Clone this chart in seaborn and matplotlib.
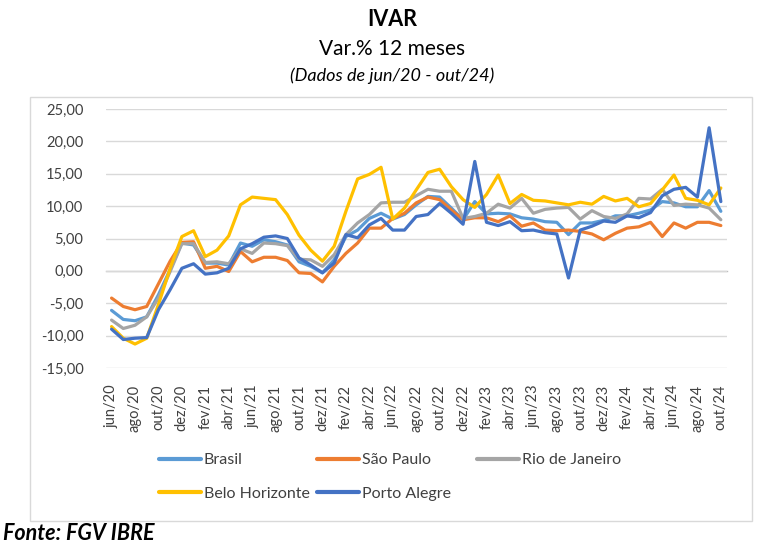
import numpy as np
import pandas as pd
import matplotlib
matplotlib.use("Agg")
import matplotlib.pyplot as plt
from matplotlib.patches import Rectangle
from matplotlib.lines import Line2D
import seaborn as sns

months = ["jun/20", "jul/20", "ago/20", "set/20", "out/20", "nov/20", "dez/20",
          "jan/21", "fev/21", "mar/21", "abr/21", "mai/21", "jun/21", "jul/21",
          "ago/21", "set/21", "out/21", "nov/21", "dez/21",
          "jan/22", "fev/22", "mar/22", "abr/22", "mai/22", "jun/22", "jul/22",
          "ago/22", "set/22", "out/22", "nov/22", "dez/22",
          "jan/23", "fev/23", "mar/23", "abr/23", "mai/23", "jun/23", "jul/23",
          "ago/23", "set/23", "out/23", "nov/23", "dez/23",
          "jan/24", "fev/24", "mar/24", "abr/24", "mai/24", "jun/24", "jul/24",
          "ago/24", "set/24", "out/24"]

brasil = [-6.1, -7.5, -7.7, -7.1, -3.7, 0.2, 4.3, 4.0, 1.2, 1.2, 0.9, 4.3, 3.8, 4.8,
          4.5, 4.0, 1.4, 0.7, -0.3, 1.7, 5.3, 6.3, 8.1, 8.9, 8.0, 8.7, 10.2, 11.5,
          11.4, 9.7, 7.9, 10.7, 8.8, 8.9, 8.8, 8.2, 8.0, 7.6, 7.5, 5.6, 7.4, 7.4,
          7.8, 8.5, 8.5, 8.9, 9.4, 10.7, 10.5, 9.9, 9.9, 12.4, 9.2]
sao_paulo = [-4.2, -5.5, -6.0, -5.5, -2.0, 1.5, 4.4, 4.5, 0.4, 0.7, -0.1, 3.0, 1.4, 2.1,
             2.1, 1.6, -0.3, -0.4, -1.7, 0.7, 2.7, 4.3, 6.6, 6.6, 8.1, 8.9, 10.5, 11.4,
             11.0, 9.4, 7.9, 8.2, 8.2, 7.6, 8.5, 6.9, 7.4, 6.3, 6.2, 6.3, 6.1, 5.7,
             4.8, 5.8, 6.6, 6.8, 7.5, 5.3, 7.4, 6.6, 7.5, 7.5, 7.0]
rio = [-7.6, -8.9, -8.4, -7.1, -4.2, -0.1, 4.2, 4.2, 1.3, 1.4, 1.1, 3.4, 2.7, 4.3,
       4.2, 3.9, 1.8, 1.7, 0.7, 2.5, 5.6, 7.4, 8.7, 10.5, 10.6, 10.6, 11.6, 12.6,
       12.3, 12.3, 8.1, 8.4, 8.9, 10.3, 9.7, 11.2, 8.9, 9.5, 9.7, 9.8, 8.0, 9.3,
       8.4, 8.1, 8.8, 11.2, 11.1, 12.6, 10.1, 10.3, 10.2, 9.7, 7.9]
belo_horizonte = [-8.6, -10.4, -11.3, -10.4, -5.2, 0.4, 5.3, 6.2, 2.2, 3.2, 5.4, 10.2, 11.4,
                  11.2, 11.0, 8.7, 5.5, 3.2, 1.5, 3.8, 9.2, 14.2, 14.9, 16.0, 8.0, 9.7,
                  12.5, 15.2, 15.7, 13.0, 11.0, 9.8, 11.8, 14.8, 10.4, 11.8, 10.9, 10.8,
                  10.5, 10.2, 10.6, 10.3, 11.5, 10.8, 11.2, 9.9, 10.4, 12.5, 14.8, 11.2,
                  10.9, 10.2, 12.8]
porto_alegre = [-9.0, -10.6, -10.4, -10.3, -6.0, -2.9, 0.4, 1.1, -0.5, -0.3, 0.4, 3.4, 4.2,
                5.2, 5.4, 5.0, 2.0, 0.9, -0.3, 1.2, 5.6, 5.1, 7.1, 8.1, 6.3, 6.3, 8.4,
                8.7, 10.4, 8.9, 7.2, 16.9, 7.5, 7.0, 7.6, 6.2, 6.3, 5.9, 5.7, -1.1, 6.3,
                6.9, 7.7, 7.5, 8.5, 8.2, 9.0, 11.6, 12.6, 12.9, 11.4, 22.1, 10.7]

series_names = ["Brasil", "São Paulo", "Rio de Janeiro", "Belo Horizonte", "Porto Alegre"]
series_colors = ["#5B9BD5", "#ED7D31", "#A5A5A5", "#FFC000", "#4472C4"]
y_ticks = [-15, -10, -5, 0, 5, 10, 15, 20, 25]
y_tick_labels = ["-15,00", "-10,00", "-5,00", "0,00", "5,00", "10,00", "15,00", "20,00", "25,00"]

values = [brasil, sao_paulo, rio, belo_horizonte, porto_alegre]
rows = []
for name, vals in zip(series_names, values):
    for i, v in enumerate(vals):
        rows.append({"idx": i, "mes": months[i], "serie": name, "valor": v})
df = pd.DataFrame(rows)

sns.set_style("white")
FONT = ["Lato", "DejaVu Sans"]
plt.rcParams["font.family"] = FONT

W, H = 768, 551
fig = plt.figure(figsize=(W / 100, H / 100), dpi=100)

# outer chart border
fig.add_artist(Rectangle((30 / W, 1 - 521 / H), (752 - 30) / W, (521 - 97) / H,
                         transform=fig.transFigure, fill=False,
                         edgecolor="#d9d9d9", lw=1.0))

ax = fig.add_axes([105.7 / W, 1 - 368 / H, 621 / W, 259 / H])
sns.lineplot(data=df, x="idx", y="valor", hue="serie", hue_order=series_names,
             palette=series_colors, linewidth=2.3, ax=ax, legend=False,
             sort=False)

ax.set_xlim(-0.5, len(months) - 0.5)
ax.set_ylim(-15, 25)
ax.set_yticks(y_ticks)
ax.set_yticklabels(y_tick_labels, fontsize=10.5, color="#404040")
ax.tick_params(axis="y", length=0, pad=16)
ax.yaxis.grid(True, color="#d9d9d9", lw=1.0)
ax.xaxis.grid(False)
ax.set_axisbelow(True)
for s in ["left", "right", "top"]:
    ax.spines[s].set_visible(False)
ax.spines["bottom"].set_position(("data", 0))
ax.spines["bottom"].set_color("#bfbfbf")
ax.spines["bottom"].set_linewidth(1.0)
ax.spines["bottom"].set_zorder(0.5)
ax.set_xticks(np.arange(-0.5, len(months) - 0.5, 2))
ax.set_xticklabels([])
ax.tick_params(axis="x", length=5, width=1.0, color="#bfbfbf", direction="out")
ax.set_xlabel("")
ax.set_ylabel("")

sec = ax.secondary_xaxis("bottom")
sec.set_xticks(list(range(0, len(months), 2)))
sec.set_xticklabels(months[::2], rotation=90, fontsize=10.5, color="#404040")
sec.tick_params(length=0, pad=12)
sec.spines["bottom"].set_visible(False)

# titles
cx = 392 / W
fig.text(cx, 1 - 20 / H, "IVAR", ha="center", va="center", fontsize=15.5,
         fontweight="bold", color="black")
fig.text(cx, 1 - 49 / H, "Var.% 12 meses", ha="center", va="center", fontsize=15,
         color="black")
fig.text(cx, 1 - 76 / H, "(Dados de jun/20 - out/24)", ha="center", va="center",
         fontsize=13, style="italic", color="black")
fig.text(3 / W, 1 - 533 / H, "Fonte: FGV IBRE", ha="left", va="center", fontsize=15.5,
         fontweight="bold", style="italic", color="black")

# legend: Excel-like fixed column positions
handles = {n: Line2D([], [], color=c, lw=3.0) for n, c in zip(series_names, series_colors)}
cols = [(159, ["Brasil", "Belo Horizonte"]),
        (317, ["São Paulo", "Porto Alegre"]),
        (477, ["Rio de Janeiro"])]
for x0, names in cols:
    fig.legend([handles[n] for n in names], names, loc="upper left",
               bbox_to_anchor=(x0 / W, 1 - 453 / H), frameon=False,
               fontsize=11.5, handlelength=2.6, handletextpad=0.2,
               labelspacing=1.2, borderpad=0, borderaxespad=0,
               labelcolor="#404040")

fig.savefig("out.png", dpi=100)
